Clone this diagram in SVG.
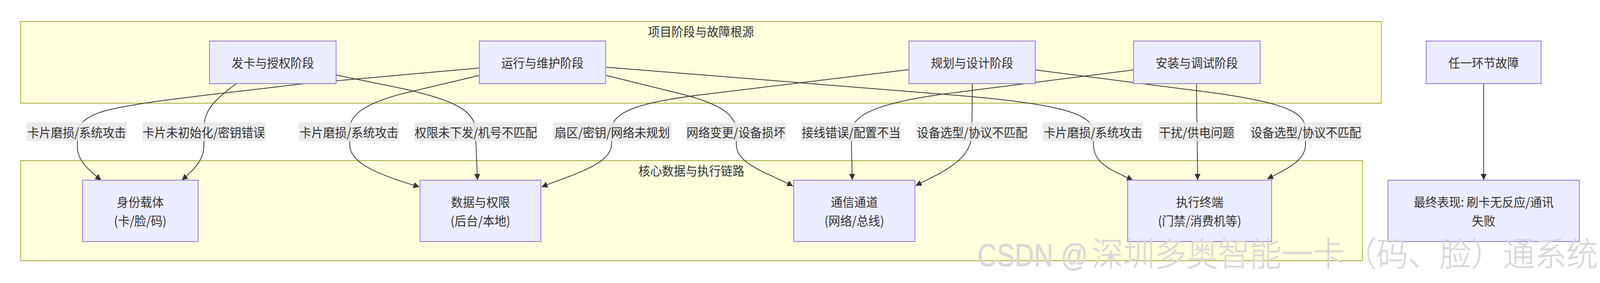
<svg xmlns="http://www.w3.org/2000/svg" width="4346" height="724" viewBox="0 0 4346 724" preserveAspectRatio="none" style="width:100%;height:100%">
<style>
text{font-family:"Noto Sans CJK SC","Liberation Sans",sans-serif;font-size:32px;fill:#333;text-anchor:middle;dominant-baseline:central}
.cluster{fill:#ffffde;stroke:#aaaa33;stroke-width:2}
.node rect{fill:#ECECFF;stroke:#9370DB;stroke-width:2}
.edge{fill:none;stroke:#333;stroke-width:2;marker-end:url(#arrow)}
.lbl rect{fill:#e8e8e8;fill-opacity:0.85}
text.wm{font-family:"Noto Sans CJK SC","Liberation Sans",sans-serif;font-size:86px;font-weight:300;fill:#d9d9d9;stroke:#c6c6c6;stroke-width:0.6;paint-order:stroke;text-anchor:start;dominant-baseline:auto}
.wm .lat{font-family:"Liberation Sans",sans-serif;font-size:82px;font-weight:400}
</style>
<defs>
<marker id="arrow" viewBox="0 0 10 10" refX="10" refY="5" markerUnits="userSpaceOnUse" markerWidth="16" markerHeight="16" orient="auto">
<path d="M0,0 L10,5 L0,10 z" fill="#333"/>
</marker>
</defs>
<rect width="4346" height="724" fill="#fff"/>
<g id="cluster-phases">
<rect class="cluster" x="56" y="55" width="3696" height="209"/>
<text x="1904" y="79">项目阶段与故障根源</text>
</g>
<g id="cluster-core">
<rect class="cluster" x="56" y="411" width="3645" height="256"/>
<text x="1878" y="435">核心数据与执行链路</text>
</g>
<g id="connectors">
<path class="edge" d="M1302,174 L826,214 C600,240 420,255 300,280 C230,295 210,320 210,345 L210,375 C210,410 240,435 275,461"/>
<path class="edge" d="M642,214 C590,250 555,280 555,320 L554,370 C554,410 530,430 494,461"/>
<path class="edge" d="M1302,193 L1100,238 C1000,262 950,290 950,330 L950,370 C950,410 1000,440 1139,478"/>
<path class="edge" d="M913,192 L1080,224 C1220,252 1290,280 1291,330 L1297,461"/>
<path class="edge" d="M2469,178 L1900,243 C1740,262 1663,285 1662,330 L1661,370 C1660,420 1560,445 1471,478"/>
<path class="edge" d="M1647,193 L1840,238 C1960,265 1999,295 2000,335 L2000,370 C2001,420 2080,440 2154,476"/>
<path class="edge" d="M3078,179 L2560,241 C2400,262 2312,290 2312,340 L2315,461"/>
<path class="edge" d="M2641,214 L2640,340 C2640,410 2560,440 2487,475"/>
<path class="edge" d="M1647,172 L2600,244 C2870,265 2968,290 2969,335 L2970,370 C2971,420 3020,435 3077,461"/>
<path class="edge" d="M3250,214 L3253,461"/>
<path class="edge" d="M2813,179 L3300,238 C3480,262 3545,285 3546,330 L3546,370 C3546,410 3500,430 3442,458"/>
<path class="edge" d="M4030,214 L4030,461"/>
</g>
<g id="edge-labels">
<g class="lbl"><rect x="73" y="313" width="271" height="48"/><text x="208.5" y="337">卡片磨损/系统攻击</text></g>
<g class="lbl"><rect x="386" y="313" width="335" height="48"/><text x="553.5" y="337">卡片未初始化/密钥错误</text></g>
<g class="lbl"><rect x="812" y="313" width="272" height="48"/><text x="948" y="337">卡片磨损/系统攻击</text></g>
<g class="lbl"><rect x="1125" y="313" width="335" height="48"/><text x="1292.5" y="337">权限未下发/机号不匹配</text></g>
<g class="lbl"><rect x="1502" y="313" width="322" height="48"/><text x="1663" y="337">扇区/密钥/网络未规划</text></g>
<g class="lbl"><rect x="1863" y="313" width="272" height="48"/><text x="1999" y="337">网络变更/设备损坏</text></g>
<g class="lbl"><rect x="2176" y="313" width="272" height="48"/><text x="2312" y="337">接线错误/配置不当</text></g>
<g class="lbl"><rect x="2489" y="313" width="303" height="48"/><text x="2640.5" y="337">设备选型/协议不匹配</text></g>
<g class="lbl"><rect x="2833" y="313" width="272" height="48"/><text x="2969" y="337">卡片磨损/系统攻击</text></g>
<g class="lbl"><rect x="3147" y="313" width="207" height="48"/><text x="3250.5" y="337">干扰/供电问题</text></g>
<g class="lbl"><rect x="3395" y="313" width="304" height="48"/><text x="3547" y="337">设备选型/协议不匹配</text></g>
</g>
<g id="node-issue" class="node"><rect x="569" y="105" width="344" height="109"/><text x="741" y="159.5">发卡与授权阶段</text></g>
<g id="node-ops" class="node"><rect x="1302" y="105" width="343" height="109"/><text x="1473.5" y="159.5">运行与维护阶段</text></g>
<g id="node-plan" class="node"><rect x="2469" y="105" width="343" height="109"/><text x="2640.5" y="159.5">规划与设计阶段</text></g>
<g id="node-install" class="node"><rect x="3079" y="105" width="344" height="109"/><text x="3251" y="159.5">安装与调试阶段</text></g>
<g id="node-any" class="node"><rect x="3874" y="105" width="312" height="109"/><text x="4030" y="159.5">任一环节故障</text></g>
<g id="node-identity" class="node"><rect x="224" y="461" width="314" height="157"/><text x="381" y="515.5">身份载体</text><text x="381" y="563.5">(卡/脸/码)</text></g>
<g id="node-data" class="node"><rect x="1141" y="461" width="328" height="157"/><text x="1305" y="515.5">数据与权限</text><text x="1305" y="563.5">(后台/本地)</text></g>
<g id="node-comm" class="node"><rect x="2156" y="461" width="329" height="157"/><text x="2320.5" y="515.5">通信通道</text><text x="2320.5" y="563.5">(网络/总线)</text></g>
<g id="node-terminal" class="node"><rect x="3063" y="461" width="391" height="157"/><text x="3258.5" y="515.5">执行终端</text><text x="3258.5" y="563.5">(门禁/消费机等)</text></g>
<g id="node-result" class="node"><rect x="3770" y="461" width="520" height="157"/><text x="4030" y="515.5">最终表现: 刷卡无反应/通讯</text><text x="4030" y="563.5">失败</text></g>
<text class="wm" y="681"><tspan class="lat" x="2655" textLength="300" lengthAdjust="spacingAndGlyphs">CSDN @</tspan><tspan x="2965">深圳多奥智能一卡（码、脸）通系统</tspan></text>
</svg>
